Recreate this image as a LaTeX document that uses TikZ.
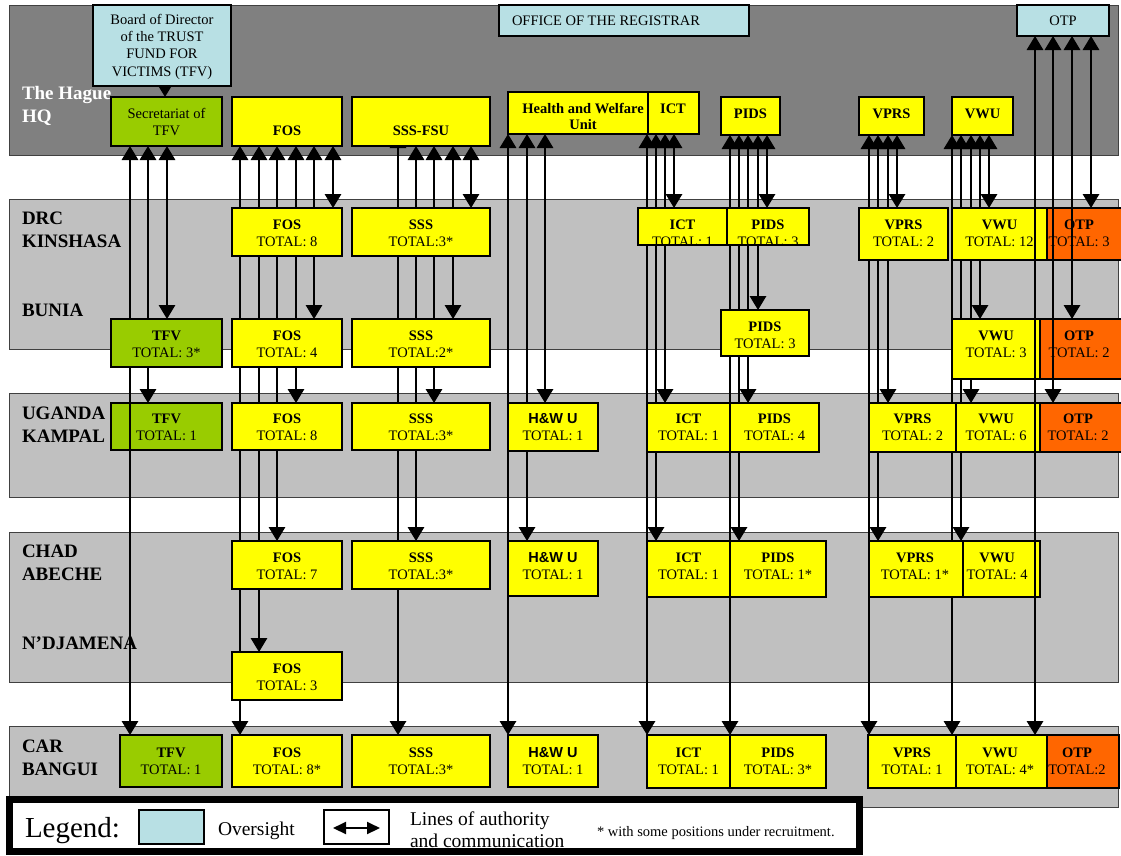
\documentclass[tikz,border=0pt]{standalone}
\usepackage{fontspec}
\setmainfont{Liberation Serif}
\newfontfamily\arialf{Liberation Sans}
\usetikzlibrary{arrows.meta,calc}
\pgfdeclarelayer{bg}\pgfdeclarelayer{lines}\pgfdeclarelayer{fg}
\pgfsetlayers{bg,lines,main,fg}
\definecolor{hqgray}{HTML}{808080}
\definecolor{bandgray}{HTML}{C0C0C0}
\definecolor{uyellow}{HTML}{FFFF00}
\definecolor{ugreen}{HTML}{99CC00}
\definecolor{uorange}{HTML}{FF6600}
\definecolor{ublue}{HTML}{B8E0E4}
\tikzset{
  band/.style={draw=black!75, line width=0.8pt},
  ubx/.style={draw=black, line width=2pt, inner sep=0pt, outer sep=0pt, rectangle},
  t/.style={inner sep=0pt, outer sep=0pt, anchor=base, font=\fontsize{14.5}{17.5}\selectfont},
  tb/.style={t, font=\fontsize{14.5}{17.5}\selectfont\bfseries},
  reglbl/.style={inner sep=0pt, outer sep=0pt, anchor=base west, font=\fontsize{19}{23}\selectfont\bfseries},
  conn/.style={line width=1.5pt, arrows={Triangle[width=16.5pt,length=14pt]-Triangle[width=16.5pt,length=14pt]}},
  legtxt/.style={inner sep=0pt, outer sep=0pt, anchor=base west, font=\fontsize{19.5}{22}\selectfont},
}
\newcommand\mkbox[6]{\node[ubx,fill=#6,minimum width={(#4-#2)*1pt},minimum height={(#5-#3)*1pt}] (#1) at ({(#2+#4)/2},{(#3+#5)/2}) {};}
\newcommand\mktext[5]{\node[tb] (#1h) at (#2,#3) {#4};\node[t] (#1n) at (#2,#3+17.5) {#5};}
\begin{document}
\begin{tikzpicture}[x=1pt,y=-1pt]
\begin{pgfonlayer}{bg}
  \fill[white] (0,0) rectangle (1121,855);
  \draw[band,fill=hqgray] (9,5) rectangle (1118,155);
  \draw[band,fill=bandgray] (9,199) rectangle (1118,349);
  \draw[band,fill=bandgray] (9,393) rectangle (1118,497);
  \draw[band,fill=bandgray] (9,532) rectangle (1118,682);
  \draw[band,fill=bandgray] (9,726) rectangle (1118,807);
\end{pgfonlayer}
\useasboundingbox (0,0) rectangle (1121,855);

% region labels
\node[reglbl,text=white] (lHague) at (22,99) {The Hague};
\node[reglbl,text=white] (lHQ) at (22,122) {HQ};
\node[reglbl] (lDRC) at (22,224) {DRC};
\node[reglbl] (lKin) at (22,247) {KINSHASA};
\node[reglbl] (lBun) at (22,316) {BUNIA};
\node[reglbl] (lUg) at (22,419) {UGANDA};
\node[reglbl] (lKam) at (22,442) {KAMPAL};
\node[reglbl] (lChad) at (22,557) {CHAD};
\node[reglbl] (lAbe) at (22,580) {ABECHE};
\node[reglbl] (lNdj) at (22,649) {N’DJAMENA};
\node[reglbl] (lCar) at (22,752) {CAR};
\node[reglbl] (lBan) at (22,775) {BANGUI};

% HQ
\mkbox{board}{93}{5}{231}{86}{ublue}
\node[t] (board1) at (162,24) {Board of Director};
\node[t] (board2) at (162,41.3) {of the TRUST};
\node[t] (board3) at (162,58.6) {FUND FOR};
\node[t] (board4) at (162,76) {VICTIMS (TFV)};
\mkbox{reg}{499}{5}{749}{36}{ublue}
\node[t,anchor=base west] (regt) at (512,25) {OFFICE OF THE REGISTRAR};
\mkbox{otpHQ}{1017}{5}{1109}{36}{ublue}
\node[t] (otpHQt) at (1063,25) {OTP};
\mkbox{secTFV}{111}{97}{222}{146}{ugreen}
\node[t] (secTFV1) at (166.5,118) {Secretariat of};
\node[t] (secTFV2) at (166.5,135) {TFV};
\mkbox{fosHQ}{232}{97}{342}{146}{uyellow}
\node[tb] (fosHQt) at (287,135) {FOS};
\mkbox{sssHQ}{352}{97}{490}{146}{uyellow}
\node[tb] (sssHQt) at (421,135) {SSS-FSU};
\mkbox{hwHQ}{508}{92}{648}{134}{uyellow}
\node[tb] (hwHQ1) at (583,113) {Health and Welfare};
\node[tb] (hwHQ2) at (583,129) {Unit};
\mkbox{ictHQ}{648}{92}{699}{134}{uyellow}
\node[tb] (ictHQt) at (673,113) {ICT};
\mkbox{pidsHQ}{721}{97}{780}{135}{uyellow}
\node[tb] (pidsHQt) at (750.5,118) {PIDS};
\mkbox{vprsHQ}{859}{97}{924}{135}{uyellow}
\node[tb] (vprsHQt) at (891.5,118) {VPRS};
\mkbox{vwuHQ}{952}{97}{1013}{135}{uyellow}
\node[tb] (vwuHQt) at (982.5,118) {VWU};

% DRC Kinshasa
\mkbox{fosDRC}{232}{208}{342}{256}{uyellow}\mktext{fosDRC}{287}{229}{FOS}{TOTAL: 8}
\mkbox{sssDRC}{352}{208}{490}{256}{uyellow}\mktext{sssDRC}{421}{229}{SSS}{TOTAL:3*}
\mkbox{ictDRC}{638}{208}{727}{245}{uyellow}
\begin{scope}\clip (639,209) rectangle (726,244);\mktext{ictDRC}{682.5}{229}{ICT}{TOTAL: 1}\end{scope}
\mkbox{pidsDRC}{727}{208}{809}{245}{uyellow}
\begin{scope}\clip (728,209) rectangle (808,244);\mktext{pidsDRC}{768}{229}{PIDS}{TOTAL: 3}\end{scope}
\mkbox{vprsDRC}{859}{208}{948}{260}{uyellow}\mktext{vprsDRC}{903.5}{229}{VPRS}{TOTAL: 2}
\mkbox{vwuDRC}{952}{208}{1047}{260}{uyellow}\mktext{vwuDRC}{999.5}{229}{VWU}{TOTAL: 12}
\mkbox{otpDRC}{1047}{208}{1122}{260}{uorange}\mktext{otpDRC}{1079}{229}{OTP}{TOTAL: 3}

% Bunia
\mkbox{tfvBU}{111}{319}{222}{367}{ugreen}\mktext{tfvBU}{166.5}{340}{TFV}{TOTAL: 3*}
\mkbox{fosBU}{232}{319}{342}{367}{uyellow}\mktext{fosBU}{287}{340}{FOS}{TOTAL: 4}
\mkbox{sssBU}{352}{319}{490}{367}{uyellow}\mktext{sssBU}{421}{340}{SSS}{TOTAL:2*}
\mkbox{pidsBU}{721}{310}{809}{356}{uyellow}\mktext{pidsBU}{765}{331}{PIDS}{TOTAL: 3}
\mkbox{vwuBU}{952}{319}{1040}{379}{uyellow}\mktext{vwuBU}{996}{340}{VWU}{TOTAL: 3}
\mkbox{otpBU}{1040}{319}{1122}{379}{uorange}\mktext{otpBU}{1079}{340}{OTP}{TOTAL: 2}

% Uganda Kampala
\mkbox{tfvUG}{111}{403}{222}{450}{ugreen}\mktext{tfvUG}{166.5}{423}{TFV}{TOTAL: 1}
\mkbox{fosUG}{232}{403}{342}{450}{uyellow}\mktext{fosUG}{287}{423}{FOS}{TOTAL: 8}
\mkbox{sssUG}{352}{403}{490}{450}{uyellow}\mktext{sssUG}{421}{423}{SSS}{TOTAL:3*}
\mkbox{hwUG}{508}{403}{598}{451}{uyellow}\mktext{hwUG}{553}{423}{{\arialf H\&W U}}{TOTAL: 1}
\mkbox{ictUG}{647}{403}{730}{452}{uyellow}\mktext{ictUG}{688.5}{423}{ICT}{TOTAL: 1}
\mkbox{pidsUG}{730}{403}{819}{452}{uyellow}\mktext{pidsUG}{774.5}{423}{PIDS}{TOTAL: 4}
\mkbox{vprsUG}{869}{403}{956}{452}{uyellow}\mktext{vprsUG}{912.5}{423}{VPRS}{TOTAL: 2}
\mkbox{vwuUG}{956}{403}{1040}{452}{uyellow}\mktext{vwuUG}{996}{423}{VWU}{TOTAL: 6}
\mkbox{otpUG}{1040}{403}{1122}{452}{uorange}\mktext{otpUG}{1078}{423}{OTP}{TOTAL: 2}

% Chad Abeche
\mkbox{fosCH}{232}{541}{342}{589}{uyellow}\mktext{fosCH}{287}{562}{FOS}{TOTAL: 7}
\mkbox{sssCH}{352}{541}{490}{589}{uyellow}\mktext{sssCH}{421}{562}{SSS}{TOTAL:3*}
\mkbox{hwCH}{508}{541}{598}{596}{uyellow}\mktext{hwCH}{553}{562}{{\arialf H\&W U}}{TOTAL: 1}
\mkbox{ictCH}{647}{541}{730}{597}{uyellow}\mktext{ictCH}{688.5}{562}{ICT}{TOTAL: 1}
\mkbox{pidsCH}{730}{541}{826}{597}{uyellow}\mktext{pidsCH}{778}{562}{PIDS}{TOTAL: 1*}
\mkbox{vprsCH}{869}{541}{963}{597}{uyellow}\mktext{vprsCH}{915}{562}{VPRS}{TOTAL: 1*}
\mkbox{vwuCH}{963}{541}{1040}{597}{uyellow}\mktext{vwuCH}{997}{562}{VWU}{TOTAL: 4}

% N'Djamena
\mkbox{fosND}{232}{652}{342}{700}{uyellow}\mktext{fosND}{287}{673}{FOS}{TOTAL: 3}

% CAR Bangui
\mkbox{tfvCAR}{120}{735}{222}{787}{ugreen}\mktext{tfvCAR}{171}{757}{TFV}{TOTAL: 1}
\mkbox{fosCAR}{232}{735}{342}{787}{uyellow}\mktext{fosCAR}{287}{757}{FOS}{TOTAL: 8*}
\mkbox{sssCAR}{352}{735}{490}{787}{uyellow}\mktext{sssCAR}{421}{757}{SSS}{TOTAL:3*}
\mkbox{hwCAR}{508}{735}{598}{787}{uyellow}\mktext{hwCAR}{553}{757}{{\arialf H\&W U}}{TOTAL: 1}
\mkbox{ictCAR}{647}{735}{730}{788}{uyellow}\mktext{ictCAR}{688.5}{757}{ICT}{TOTAL: 1}
\mkbox{pidsCAR}{730}{735}{826}{788}{uyellow}\mktext{pidsCAR}{778}{757}{PIDS}{TOTAL: 3*}
\mkbox{vprsCAR}{868}{735}{956}{788}{uyellow}\mktext{vprsCAR}{912}{757}{VPRS}{TOTAL: 1}
\mkbox{vwuCAR}{956}{735}{1047}{788}{uyellow}\mktext{vwuCAR}{1000}{757}{VWU}{TOTAL: 4*}
\mkbox{otpCAR}{1047}{735}{1119}{788}{uorange}\mktext{otpCAR}{1077}{757}{OTP}{TOTAL:2}

% connectors under boxes
\coordinate (sssTip) at (398,134);
\begin{pgfonlayer}{lines}
  \draw[conn] (165,0 |- board.south) -- (165,0 |- secTFV.north);
  \foreach \x/\n in {130/tfvCAR,148/tfvUG,167/tfvBU}
    \draw[conn] (\x,0 |- secTFV.south) -- (\x,0 |- \n.north);
  \foreach \x/\n in {240/fosCAR,259/fosND,277/fosCH,296/fosUG,314/fosBU,333/fosDRC}
    \draw[conn] (\x,0 |- fosHQ.south) -- (\x,0 |- \n.north);
  \draw[conn] (sssTip) -- (398,0 |- sssCAR.north);
  \foreach \x/\n in {416/sssCH,434/sssUG,453/sssBU,471/sssDRC}
    \draw[conn] (\x,0 |- sssHQ.south) -- (\x,0 |- \n.north);
  \foreach \x/\n in {508/hwCAR,527/hwCH,545/hwUG}
    \draw[conn] (\x,0 |- hwHQ.south) -- (\x,0 |- \n.north);
  \foreach \x/\n in {647/ictCAR,656/ictCH,665/ictUG,674/ictDRC}
    \draw[conn] (\x,0 |- ictHQ.south) -- (\x,0 |- \n.north);
  \foreach \x/\n in {730/pidsCAR,739/pidsCH,748/pidsUG,758/pidsBU,767/pidsDRC}
    \draw[conn] (\x,0 |- pidsHQ.south) -- (\x,0 |- \n.north);
  \foreach \x/\n in {869/vprsCAR,878/vprsCH,888/vprsUG,897/vprsDRC}
    \draw[conn] (\x,0 |- vprsHQ.south) -- (\x,0 |- \n.north);
  \foreach \x/\n in {952/vwuCAR,961/vwuCH,971/vwuUG,980/vwuBU,989/vwuDRC}
    \draw[conn] (\x,0 |- vwuHQ.south) -- (\x,0 |- \n.north);
\end{pgfonlayer}
% connectors drawn over boxes
\begin{pgfonlayer}{fg}
  \foreach \x/\n in {1035/otpCAR,1053/otpUG,1072/otpBU,1091/otpDRC}
    \draw[conn] (\x,0 |- otpHQ.south) -- (\x,0 |- \n.north);
  \draw[line width=1.5pt] (130,0 |- tfvUG.north) -- (130,0 |- tfvUG.south);
\end{pgfonlayer}

% legend
\node[draw=black,line width=7pt,fill=white,inner sep=0pt,outer sep=0pt,minimum width=850pt,minimum height=52pt] (legend) at (434.5,825.5) {};
\node[inner sep=0pt,outer sep=0pt,anchor=base west,font=\fontsize{29}{33}\selectfont] (legT) at (25,837) {Legend:};
\node[draw=black,line width=1.5pt,fill=ublue,inner sep=0pt,minimum width=65pt,minimum height=34pt] (legBlue) at (171.5,827) {};
\node[legtxt] (legOv) at (218,835) {Oversight};
\node[draw=black,line width=1.5pt,fill=white,inner sep=0pt,minimum width=65pt,minimum height=34pt] (legArr) at (356.5,827) {};
\coordinate (la1) at (333,828);
\coordinate (la2) at (380,828);
\draw[line width=2pt, arrows={Triangle[width=12pt,length=13pt]-Triangle[width=12pt,length=13pt]}] (la1) -- (la2);
\node[legtxt] (legL1) at (410,825) {Lines of authority};
\node[legtxt] (legL2) at (410,847) {and communication};
\node[t,anchor=base west] (legNote) at (597,836) {* with some positions under recruitment.};
\end{tikzpicture}
\end{document}
